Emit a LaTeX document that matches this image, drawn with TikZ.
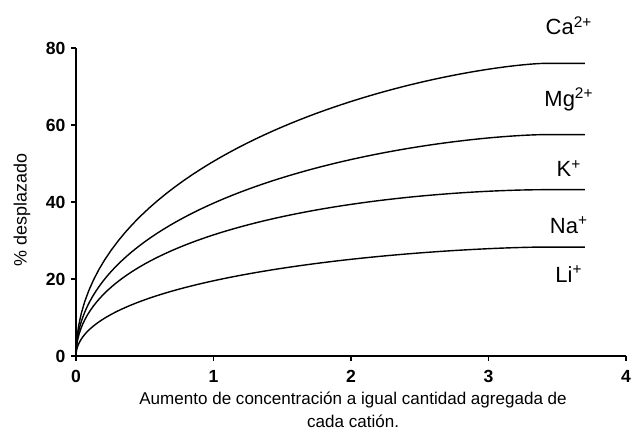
\documentclass[tikz,border=0pt]{standalone}
\usepackage{fontspec}
\setmainfont{Liberation Sans}
\usetikzlibrary{calc}

\tikzset{
    curva/.style={line width=.8pt},
    eje/.style={line width=1.1pt},
    ticklabel/.style={font=\fontsize{10}{12}\selectfont\bfseries, inner sep=0pt},
    ion/.style={font=\fontsize{12.5}{14}\selectfont, anchor=base, inner sep=0pt}
}

\begin{document}
\begin{tikzpicture}[x=2.75cm, y=0.077cm]
        \useasboundingbox (-1.52cm,-1.56cm) rectangle (11.1cm,7.12cm);

        % ejes
        \draw[eje] (0,80) -- (0,0) -- (4,0);
        \foreach \x in {0,...,4}
        {
            \draw[eje] (\x,0) -- ++(0,-1.3);
            \node[ticklabel, anchor=north] (tx\x) at (\x,-3.6) {\x};
        }
        \foreach \y in {0,20,...,80}
        {
            \draw[eje] (0,\y) -- ++(-.04,0);
            \node[ticklabel, anchor=east] (ty\y) at (-.075,\y) {\y};
        }

        % curvas: maximo / raiz / potencia
        \foreach \m/\r/\p in {76/5/7, 57.5/2/3, 43.2/3/5, 28.3/2/3}
        {
            \draw[curva] (3.7,\m) -- plot[domain=0:1, samples=150, variable=\w] ({3.4*(1-\w^\r)^2},{\m*(1-\w^\p)});
        }

        % iones
        \node[ion] (ca) at (3.585,83.4) {Ca\textsuperscript{2+}};
        \node[ion] (mg) at (3.585,64.9) {Mg\textsuperscript{2+}};
        \node[ion] (k)  at (3.585,46.5) {K\textsuperscript{+}};
        \node[ion] (na) at (3.585,31.9) {Na\textsuperscript{+}};
        \node[ion] (li) at (3.585,19.2) {Li\textsuperscript{+}};

        % rotulos
        \node[font=\fontsize{10.2}{13}\selectfont, rotate=90] (ylabel) at (-.393,37.9) {\% desplazado};
        \node[font=\fontsize{9.7}{13}\selectfont, align=center, anchor=north] (xlabel) at (2.015,-7.8)
            {Aumento de concentración a igual cantidad agregada de\\cada catión.};
\end{tikzpicture}
\end{document}
